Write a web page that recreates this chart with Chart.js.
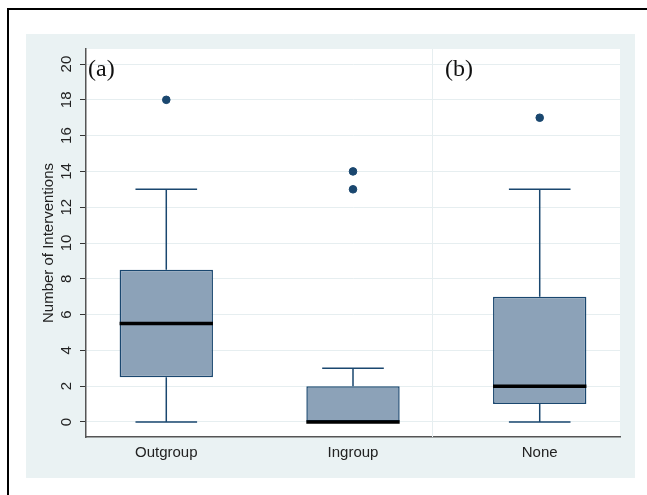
<!DOCTYPE html>
<html>
<head>
<meta charset="utf-8">
<script src="https://cdn.jsdelivr.net/npm/chart.js@4.4.1/dist/chart.umd.min.js"></script>
<style>
  body { margin: 0; background: #fff; }
  #wrap { width: 647px; height: 495px; }
</style>
</head>
<body>
<div id="wrap"><canvas id="chart" width="647" height="495"></canvas></div>
<script>
// box plot summaries
const categories = ['Outgroup', 'Ingroup', 'None']
const xPos = [1, 2, 3]
const whiskerLow = [0, 0, 0]
const q1 = [2.5, 0, 1]
const median = [5.5, 0, 2]
const q3 = [8.5, 2, 7]
const whiskerHigh = [13, 3, 13]
const outliers = [[18], [14, 13], [17]]
const yTicks = [0, 2, 4, 6, 8, 10, 12, 14, 16, 18, 20]
const panelLabels = ['(a)', '(b)']
const divider = 2.423

const navy = '#1A476F'
const boxFill = '#8CA2B8'
const gridCol = '#E6EEF0'

// whiskers as broken line segments
const whiskerPts = []
const capPts = []
const medianPts = []
xPos.forEach((x, i) => {
    whiskerPts.push({x: x, y: q3[i]}, {x: x, y: whiskerHigh[i]}, {x: x, y: null})
    whiskerPts.push({x: x, y: whiskerLow[i]}, {x: x, y: q1[i]}, {x: x, y: null})
    capPts.push({x: x - 0.165, y: whiskerHigh[i]}, {x: x + 0.165, y: whiskerHigh[i]}, {x: x, y: null})
    capPts.push({x: x - 0.165, y: whiskerLow[i]}, {x: x + 0.165, y: whiskerLow[i]}, {x: x, y: null})
    medianPts.push({x: x - 0.25, y: median[i]}, {x: x + 0.25, y: median[i]}, {x: x, y: null})
})
const outlierPts = []
outliers.forEach((arr, i) => arr.forEach(v => outlierPts.push({x: xPos[i], y: v})))

const backdrop = {
    id: 'backdrop',
    beforeDraw(chart) {
        const {ctx, chartArea: a} = chart
        ctx.save()
        ctx.fillStyle = '#fff'
        ctx.fillRect(0, 0, chart.width, chart.height)
        ctx.strokeStyle = '#000'
        ctx.lineWidth = 2
        ctx.beginPath()
        ctx.moveTo(8, chart.height)
        ctx.lineTo(8, 9)
        ctx.lineTo(chart.width, 9)
        ctx.stroke()
        ctx.fillStyle = '#EAF2F3'
        ctx.fillRect(26, 34, 609, 444)
        ctx.fillStyle = '#fff'
        ctx.fillRect(a.left, a.top, a.right - a.left, a.bottom - a.top)
        ctx.restore()
    },
    beforeDatasetsDraw(chart) {
        const {ctx, chartArea: a, scales: {x}} = chart
        const px = Math.round(x.getPixelForValue(divider)) + 0.5
        ctx.save()
        ctx.strokeStyle = gridCol
        ctx.lineWidth = 1
        ctx.beginPath()
        ctx.moveTo(px, a.top)
        ctx.lineTo(px, a.bottom)
        ctx.stroke()
        ctx.restore()
    },
    afterDraw(chart) {
        const {ctx, chartArea: a, scales: {x}} = chart
        ctx.save()
        ctx.fillStyle = '#111'
        ctx.font = '24px "Liberation Serif"'
        ctx.textBaseline = 'alphabetic'
        ctx.fillText(panelLabels[0], a.left + 2, 76)
        ctx.fillText(panelLabels[1], x.getPixelForValue(divider) + 13, 76)
        ctx.restore()
    }
}

new Chart(document.getElementById('chart'), {
    type: 'bar',
    data: {
        datasets: [
            {
                type: 'line', data: medianPts, borderColor: '#000', borderWidth: 3.5,
                pointRadius: 0, spanGaps: false, order: 0
            },
            {
                type: 'scatter', data: outlierPts, backgroundColor: navy, borderColor: navy,
                pointRadius: 3.8, order: 1
            },
            {
                type: 'bar', data: xPos.map((x, i) => ({x: x, y: [q1[i], q3[i]]})),
                backgroundColor: boxFill, borderColor: navy, borderWidth: 1.5, borderSkipped: false,
                barPercentage: 0.5, categoryPercentage: 1, order: 2
            },
            {
                type: 'line', data: whiskerPts, borderColor: navy, borderWidth: 1.5,
                pointRadius: 0, spanGaps: false, order: 3
            },
            {
                type: 'line', data: capPts, borderColor: navy, borderWidth: 1.5,
                pointRadius: 0, spanGaps: false, order: 3
            }
        ]
    },
    options: {
        responsive: false,
        animation: false,
        layout: { padding: { left: 26, top: 49, right: 27, bottom: 18 } },
        plugins: { legend: { display: false }, tooltip: { enabled: false } },
        scales: {
            x: {
                type: 'linear', min: 0.57, max: 3.43, offset: false,
                afterBuildTicks: (s) => { s.ticks = xPos.map(v => ({value: v})) },
                afterFit: (s) => { s.height = 40 },
                grid: { display: false, drawTicks: false, offset: false },
                border: { display: true, color: '#555', width: 1.5 },
                ticks: {
                    padding: 7, color: '#222', maxRotation: 0,
                    font: { family: '"Liberation Sans", Arial', size: 15 },
                    callback: (v) => categories[xPos.indexOf(v)]
                }
            },
            y: {
                min: -0.84, max: 20.84,
                afterBuildTicks: (s) => { s.ticks = yTicks.map(v => ({value: v})) },
                afterFit: (s) => { s.width = 60 },
                grid: { color: gridCol, tickColor: '#333', tickLength: 6, lineWidth: 1 },
                border: { display: true, color: '#555', width: 1.5 },
                ticks: {
                    minRotation: 90, maxRotation: 90, crossAlign: 'center', padding: 5,
                    color: '#222', font: { family: '"Liberation Sans", Arial', size: 15 }
                },
                title: {
                    display: true, text: 'Number of Interventions', color: '#222',
                    font: { family: '"Liberation Sans", Arial', size: 15 },
                    padding: { top: 14, bottom: 0 }
                }
            }
        }
    },
    plugins: [backdrop]
})
</script>
</body>
</html>
